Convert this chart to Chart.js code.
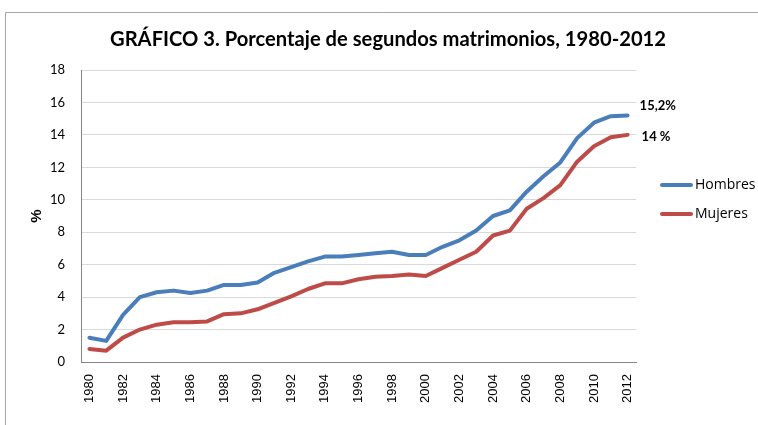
<!DOCTYPE html>
<html><head><meta charset="utf-8">
<script src="https://cdn.jsdelivr.net/npm/chart.js@4/dist/chart.umd.min.js"></script>
<style>html,body{margin:0;padding:0;background:#fff;}#wrap{width:758px;height:425px;position:relative;}</style>
</head><body><div id="wrap"><canvas id="c" width="758" height="425"></canvas></div>
<script>
const years = [1980,1981,1982,1983,1984,1985,1986,1987,1988,1989,1990,1991,1992,1993,1994,1995,1996,1997,1998,1999,2000,2001,2002,2003,2004,2005,2006,2007,2008,2009,2010,2011,2012];
const hombres = [1.5,1.3,2.9,4.0,4.3,4.4,4.25,4.4,4.75,4.75,4.9,5.5,5.85,6.2,6.5,6.5,6.6,6.7,6.8,6.6,6.6,7.1,7.5,8.1,9.0,9.35,10.5,11.45,12.3,13.8,14.75,15.15,15.2];
const mujeres = [0.8,0.7,1.5,2.0,2.3,2.45,2.45,2.5,2.95,3.0,3.25,3.65,4.05,4.5,4.85,4.85,5.1,5.25,5.3,5.4,5.3,5.8,6.3,6.8,7.8,8.1,9.45,10.1,10.9,12.35,13.3,13.85,14.0];
const seriesNames = ["Hombres","Mujeres"];
const endLabels = ["15,2%","14 %"];
const yTicks = [0,2,4,6,8,10,12,14,16,18];
const titleText = "GRÁFICO 3. Porcentaje de segundos matrimonios, 1980-2012";
const yTitle = "%";

const colors = ["#4a7ebb","#be4b48"];

const decor = {
  id:'decor',
  beforeDraw(chart){
    const ctx = chart.ctx;
    ctx.save();
    ctx.fillStyle = '#fff';
    ctx.fillRect(0,0,chart.width,chart.height);
    ctx.strokeStyle = '#a6a6a6';
    ctx.lineWidth = 1;
    ctx.beginPath();
    ctx.moveTo(5.5,425); ctx.lineTo(5.5,12.5); ctx.lineTo(758,12.5);
    ctx.stroke();
    ctx.restore();
  },
  afterDraw(chart){
    const ctx = chart.ctx;
    ctx.save();
    ctx.fillStyle = '#000';
    ctx.font = 'bold 20px Lato';
    ctx.textAlign = 'center';
    ctx.textBaseline = 'middle';
    const w = ctx.measureText(titleText).width;
    const target = 556;
    ctx.translate(388, 40);
    ctx.scale(target / w, 1);
    ctx.fillText(titleText, 0, 0);
    ctx.restore();

    ctx.save();
    ctx.fillStyle = '#000';
    ctx.font = 'bold 13px Lato';
    ctx.textBaseline = 'middle';
    ctx.textAlign = 'left';
    const xs = chart.scales.x, ys = chart.scales.y;
    chart.data.datasets.forEach((ds, i) => {
      const last = ds.data.length - 1;
      const px = xs.getPixelForValue(last);
      const py = ys.getPixelForValue(ds.data[last]);
      const off = i === 0 ? -10 : 2;
      ctx.fillText(endLabels[i], px + (i === 0 ? 12 : 14), py + off);
    });
    ctx.restore();

    ctx.save();
    ctx.font = '14px "Open Sans"';
    ctx.textBaseline = 'middle';
    ctx.textAlign = 'left';
    chart.data.datasets.forEach((ds, i) => {
      const y = 185 + i * 29;
      ctx.strokeStyle = ds.borderColor;
      ctx.lineWidth = 4;
      ctx.lineCap = 'round';
      ctx.beginPath(); ctx.moveTo(662, y); ctx.lineTo(691, y); ctx.stroke();
      ctx.fillStyle = '#000';
      ctx.fillText(ds.label, 695, y);
    });
    ctx.restore();
  }
};

new Chart(document.getElementById('c'), {
  type: 'line',
  data: {
    labels: years.map(String),
    datasets: [
      {label: seriesNames[0], data: hombres, borderColor: colors[0], backgroundColor: colors[0], borderWidth: 4, pointRadius: 0, tension: 0, borderJoinStyle:'round', borderCapStyle:'round'},
      {label: seriesNames[1], data: mujeres, borderColor: colors[1], backgroundColor: colors[1], borderWidth: 4, pointRadius: 0, tension: 0, borderJoinStyle:'round', borderCapStyle:'round'}
    ]
  },
  options: {
    responsive: false,
    animation: false,
    devicePixelRatio: 1,
    layout: {padding: {left: 0, right: 122, top: 70, bottom: 0}},
    plugins: {legend: {display: false}, title: {display: false}, tooltip: {enabled: false}},
    scales: {
      x: {
        offset: true,
        grid: {display: false, drawTicks: false},
        border: {color: '#868686', width: 1},
        ticks: {
          autoSkip: false, maxRotation: 90, minRotation: 90, padding: 12,
          color: '#000', font: {family: 'Liberation Sans', size: 13},
          callback: function(v, i){ return years[i] % 2 === 0 ? String(years[i]) : ''; }
        },
        afterFit(s){ s.height = 63; }
      },
      y: {
        min: 0, max: 18,
        afterBuildTicks(s){ s.ticks = yTicks.map(v => ({value: v})); },
        grid: {color: '#d9d9d9', lineWidth: 1, drawTicks: false},
        border: {color: '#868686', width: 1},
        ticks: {color: '#000', font: {family: 'Lato', size: 13}, padding: 16},
        title: {display: true, text: yTitle, color: '#000', font: {family: 'Liberation Sans', size: 15, weight: 'bold'}, padding: {top: 28, bottom: 0}},
        afterFit(s){ s.width = 81; }
      }
    }
  },
  plugins: [decor]
});
</script>
</body></html>
